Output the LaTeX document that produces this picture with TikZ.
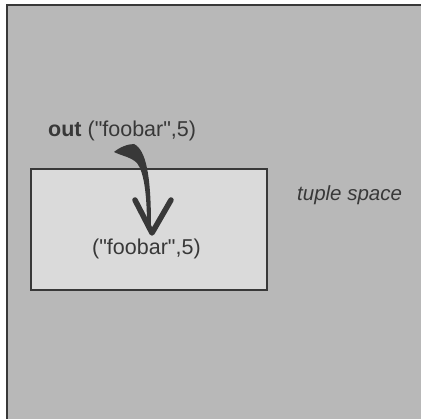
\documentclass[tikz,border=0pt]{standalone}
\usepackage{fontspec}
% loaded without the TeX ligature mapping, so " stays a straight quote
\newfontfamily\helv{Liberation Sans}
\definecolor{spacegray}{HTML}{B8B8B8}
\definecolor{boxgray}{HTML}{DADADA}
\definecolor{inkgray}{HTML}{383838}
\begin{document}
\begin{tikzpicture}[x=1pt,y=-1pt,
  frame/.style={draw=inkgray,line width=2pt},
  lbl/.style={inner sep=0pt,text=inkgray,font=\helv\fontsize{21.5}{25}\selectfont},
  brush/.style={fill=inkgray,draw=none},
  headstroke/.style={draw=inkgray,line width=5.5pt,line cap=round,line join=round}]
\useasboundingbox (0,0) rectangle (421,419);
\fill[white] (0,0) rectangle (421,419);
% the tuple space
\begin{scope}
  \clip (0,0) rectangle (421,419);
  \path[frame,fill=spacegray] (7,5) rectangle (430,430);
\end{scope}
\node[frame,fill=boxgray,minimum width=236pt,minimum height=121pt,inner sep=0pt,anchor=north west] (ts) at (30,168) {};
\node[lbl,anchor=west] (out) at (48,131) {\textbf{out} ("foobar",5)};
\node[lbl,anchor=west] (tuple) at (92,249) {("foobar",5)};
\node[lbl,anchor=west,font=\helv\fontsize{20.5}{24}\selectfont\itshape] (lab) at (297,195) {tuple space};
% the out operation: a tapering stroke ending in an open head
\coordinate (s0) at (114,152);
\coordinate (tip) at (152,233);
\fill[brush] (s0) .. controls (120,147) and (128,144) .. (134,144)
  .. controls (146,150) and (151,175) .. (151,226)
  -- (147,226) .. controls (147,195) and (144,172) .. (137,163)
  .. controls (131,157) and (122,156) .. cycle;
\draw[headstroke] (135,200) -- (tip) -- (171,200);
\end{tikzpicture}
\end{document}
